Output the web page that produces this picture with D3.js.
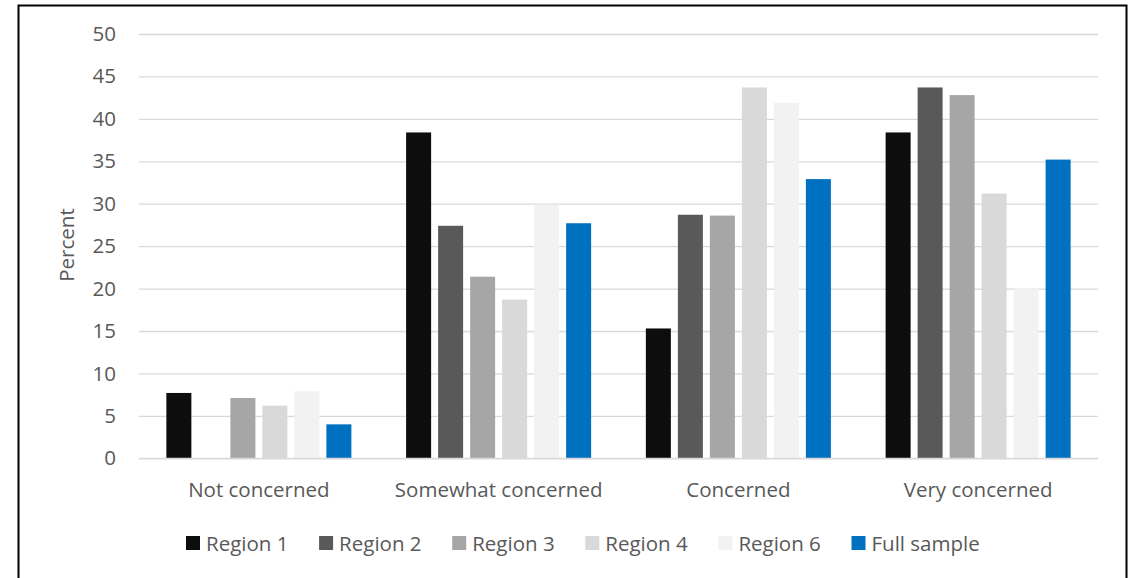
<!DOCTYPE html>
<html>
<head>
<meta charset="utf-8">
<script src="https://cdn.jsdelivr.net/npm/d3@7"></script>
<style>
  html, body { margin: 0; padding: 0; background: #fff; }
  svg { display: block; }
  text { font-family: "Open Sans", "Liberation Sans", sans-serif; fill: #595959; }
</style>
</head>
<body>
<script>
const categories = ["Not concerned", "Somewhat concerned", "Concerned", "Very concerned"];
const seriesNames = ["Region 1", "Region 2", "Region 3", "Region 4", "Region 6", "Full sample"];
const region1 = [7.7, 38.4, 15.3, 38.4];
const region2 = [0, 27.4, 28.7, 43.7];
const region3 = [7.1, 21.4, 28.6, 42.8];
const region4 = [6.2, 18.7, 43.7, 31.2];
const region6 = [7.9, 29.9, 41.9, 20.0];
const fullSample = [4.0, 27.7, 32.9, 35.2];
const yTicks = [0, 5, 10, 15, 20, 25, 30, 35, 40, 45, 50];
const seriesColors = ["#0d0d0d", "#595959", "#a6a6a6", "#d9d9d9", "#f2f2f2", "#0070c0"];

const seriesValues = [region1, region2, region3, region4, region6, fullSample];

const W = 1133, H = 578;
const svg = d3.select("body").append("svg").attr("width", W).attr("height", H);
svg.append("rect").attr("width", W).attr("height", H).attr("fill", "#fff");

// outer frame (open at bottom)
svg.append("path")
  .attr("d", `M18.5,${H + 2} L18.5,5.5 L1126.5,5.5 L1126.5,${H + 2}`)
  .attr("fill", "none").attr("stroke", "#000").attr("stroke-width", 2);

const plot = { left: 139, right: 1098, top: 34, bottom: 458.3 };

const x0 = d3.scaleBand().domain(categories).range([plot.left, plot.right]).paddingInner(0).paddingOuter(0);
const x1 = d3.scaleBand().domain(seriesNames).range([0, x0.bandwidth()])
  .paddingInner(7 / 32).paddingOuter(0.855);
const y = d3.scaleLinear().domain([0, 50]).range([plot.bottom, plot.top]);

// gridlines
const yAxis = d3.axisLeft(y).tickValues(yTicks).tickSize(-(plot.right - plot.left)).tickPadding(23);
const gy = svg.append("g").attr("transform", `translate(${plot.left},0)`).call(yAxis);
gy.select(".domain").remove();
gy.selectAll(".tick line").attr("stroke", "#d9d9d9").attr("stroke-width", 1.3);
gy.selectAll(".tick text")
  .attr("font-size", 20.5).attr("fill", "#595959")
  .style("font-family", '"Open Sans", sans-serif');

// bars
const groups = svg.append("g").selectAll("g")
  .data(categories).join("g")
  .attr("transform", d => `translate(${x0(d)},0)`);

groups.selectAll("rect")
  .data((c, ci) => seriesNames.map((s, si) => ({ s, si, v: seriesValues[si][ci] })))
  .join("rect")
  .attr("x", d => x1(d.s))
  .attr("width", x1.bandwidth())
  .attr("y", d => y(d.v))
  .attr("height", d => y(0) - y(d.v))
  .attr("fill", d => seriesColors[d.si]);

// x axis baseline
svg.append("line")
  .attr("x1", plot.left).attr("x2", plot.right)
  .attr("y1", y(0)).attr("y2", y(0))
  .attr("stroke", "#d9d9d9").attr("stroke-width", 1.3);

// x axis labels
const xAxis = d3.axisBottom(x0).tickSize(0).tickPadding(0);
const gx = svg.append("g").attr("transform", `translate(0,${y(0)})`).call(xAxis);
gx.select(".domain").remove();
gx.selectAll(".tick text")
  .attr("y", 38.5).attr("dy", 0)
  .attr("font-size", 20.5).attr("fill", "#595959")
  .style("font-family", '"Open Sans", sans-serif');

// y axis title
svg.append("text")
  .attr("transform", `translate(73.5,245) rotate(-90)`)
  .attr("text-anchor", "middle")
  .attr("font-size", 20.5)
  .text("Percent");

// legend
const legend = svg.append("g").attr("transform", "translate(186,536)");
const item = legend.selectAll("g").data(seriesNames).join("g")
  .attr("transform", (d, i) => `translate(${i * 133.1},0)`);
item.append("rect").attr("width", 14).attr("height", 14)
  .attr("fill", (d, i) => seriesColors[i]);
item.append("text").attr("x", 20).attr("y", 14.5)
  .attr("font-size", 20.5).text(d => d);
</script>
</body>
</html>
